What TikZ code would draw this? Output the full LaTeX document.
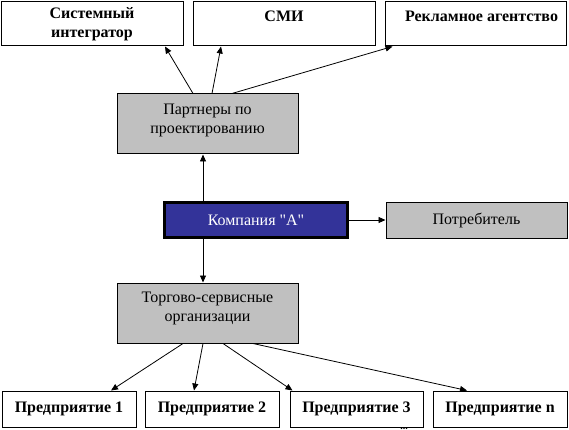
\documentclass[tikz,border=0pt]{standalone}
\usepackage{fontspec}
\setmainfont[Ligatures=TeXOff]{Liberation Serif}
\usetikzlibrary{arrows.meta}
\definecolor{boxgray}{RGB}{192,192,192}
\definecolor{compblue}{RGB}{51,51,153}
\newcommand\toptext[2]{\parbox[c][#1][t]{176pt}{\centering #2}}
\begin{document}
\begin{tikzpicture}[x=1pt,y=-1pt,
  every node/.style={font=\fontsize{16}{19.5}\selectfont},
  box/.style={draw=black, line width=1pt, rectangle, inner sep=0pt, align=center},
  gbox/.style={box, fill=boxgray},
  bbox/.style={box, fill=white, font=\bfseries\fontsize{16}{19.5}\selectfont},
  conn/.style={line width=0.8pt, -{Triangle[length=7pt,width=6pt]}}
]
\useasboundingbox (0,0) rectangle (569,430);
\clip (0,0) rectangle (569,430);
\fill[white] (0,0) rectangle (569,430);
% top row
\node[bbox, minimum width=182pt, minimum height=44pt] (si) at (92,24) {Системный\\интегратор};
\node[bbox, minimum width=182pt, minimum height=44pt] (smi) at (284,24) {\toptext{26pt}{СМИ}};
\node[bbox, minimum width=181pt, minimum height=44pt] (rek) at (475.5,24) {\toptext{26pt}{\hspace*{12pt}Рекламное агентство}};
% middle
\node[gbox, minimum width=181pt, minimum height=60pt] (par) at (207.5,124) {\toptext{40pt}{Партнеры по\\проектированию}};
\node[box, line width=3pt, fill=compblue, text=white, minimum width=183pt, minimum height=35pt] (komp) at (256,220) {Компания "А"};
\node[gbox, minimum width=181pt, minimum height=36pt] (potr) at (476.5,220) {Потребитель};
\node[gbox, minimum width=181pt, minimum height=60pt] (torg) at (207.5,313) {\toptext{42pt}{Торгово-сервисные\\организации}};
% bottom row
\node[bbox, minimum width=134pt, minimum height=36pt] (p1) at (69,409) {Предприятие 1};
\node[bbox, minimum width=134pt, minimum height=36pt] (p2) at (212,409) {Предприятие 2};
\node[bbox, minimum width=133pt, minimum height=36pt] (p3) at (356.5,409) {Предприятие 3};
\node[bbox, minimum width=134pt, minimum height=36pt] (pn) at (500,409) {Предприятие n};
\node[font=\bfseries\fontsize{10}{12}\selectfont, anchor=base, inner sep=0pt] (dots) at (404,429.6) {...};
% connectors
\draw[conn] ([xshift=-14.5pt]par.north) -- ([xshift=73pt]si.south);
\draw[conn] ([xshift=4.5pt]par.north) -- ([xshift=-63pt]smi.south);
\draw[conn] ([xshift=24.5pt]par.north) -- ([xshift=8pt]rek.south west);
\coordinate (kt) at ([xshift=-53pt]komp.north);
\coordinate (kb) at ([xshift=-53pt]komp.south);
\draw[conn] (kt) -- (kt |- par.south);
\draw[conn] (kb) -- (kb |- torg.north);
\draw[conn] (komp.east) -- (potr.west);
\draw[conn] ([xshift=-24.5pt]torg.south) -- ([xshift=42pt]p1.north);
\draw[conn] ([xshift=-4.5pt]torg.south) -- ([xshift=-18pt]p2.north);
\draw[conn] ([xshift=15.5pt]torg.south) -- ([xshift=3pt]p3.north west);
\draw[conn] ([xshift=45.5pt]torg.south) -- ([xshift=-33pt]pn.north);
\end{tikzpicture}
\end{document}
